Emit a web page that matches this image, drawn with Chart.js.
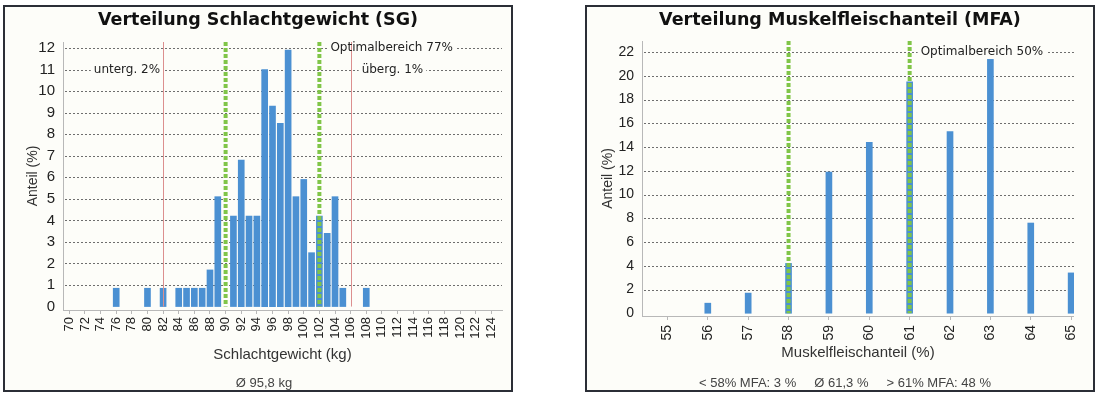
<!DOCTYPE html>
<html>
<head>
<meta charset="utf-8">
<script src="https://cdn.jsdelivr.net/npm/chart.js@4.4.1/dist/chart.umd.min.js"></script>
<style>
  html, body { margin: 0; padding: 0; background: #fff; }
  body { width: 1097px; height: 397px; position: relative; overflow: hidden; }
  .panel { position: absolute; top: 5px; width: 510px; height: 387px; box-sizing: border-box;
           border: 2px solid #2b2e36; background: #fdfdf9; }
  #p1 { left: 3px; }
  #p2 { left: 585px; }
  .panel canvas { position: absolute; left: 0; top: 0; }
  .title { position: absolute; left: 0; right: 0; top: 2px; text-align: center;
           font: bold 17.5px "DejaVu Sans"; line-height: 20px; color: #111; }
  .foot { position: absolute; top: 368px; font: 13px "Liberation Sans"; line-height: 15px;
          color: #444; white-space: pre; transform: translateX(-50%); }
</style>
</head>
<body>
<div class="panel" id="p1">
  <canvas id="sgChart" width="506" height="383"></canvas>
  <div class="title">Verteilung Schlachtgewicht (SG)</div>
  <div class="foot" style="left:259px">Ø 95,8 kg</div>
</div>
<div class="panel" id="p2">
  <canvas id="mfaChart" width="506" height="383"></canvas>
  <div class="title">Verteilung Muskelfleischanteil (MFA)</div>
  <div class="foot" style="left:258px">&lt; 58% MFA: 3 %     Ø 61,3 %     &gt; 61% MFA: 48 %</div>
</div>
<script>
// --- Schlachtgewicht (SG) ---
const sgKg    = [76, 80, 82, 84, 85, 86, 87, 88, 89, 91, 92, 93, 94, 95, 96, 97, 98, 99, 100, 101, 102, 103, 104, 105, 108];
const sgPct   = [0.85, 0.85, 0.85, 0.85, 0.85, 0.85, 0.85, 1.7, 5.1, 4.2, 6.8, 4.2, 4.2, 11.0, 9.3, 8.5, 11.9, 5.1, 5.9, 2.5, 4.2, 3.4, 5.1, 0.85, 0.85];
const sgTicks = [70, 72, 74, 76, 78, 80, 82, 84, 86, 88, 90, 92, 94, 96, 98, 100, 102, 104, 106, 108, 110, 112, 114, 116, 118, 120, 122, 124];
const sgYTicks = [0, 1, 2, 3, 4, 5, 6, 7, 8, 9, 10, 11, 12];
const sgLimits  = [82, 106];   // red lines
const sgOptimal = [90, 102];   // green lines
const sgNotes   = ['unterg. 2%', 'überg. 1%', 'Optimalbereich 77%'];

// --- Muskelfleischanteil (MFA) ---
const mfaVal   = [56, 57, 58, 59, 60, 61, 62, 63, 64, 65];
const mfaPct   = [0.85, 1.7, 4.2, 11.9, 14.4, 19.5, 15.3, 21.6, 7.6, 3.4];
const mfaTicks = [55, 56, 57, 58, 59, 60, 61, 62, 63, 64, 65];
const mfaYTicks = [0, 2, 4, 6, 8, 10, 12, 14, 16, 18, 20, 22];
const mfaOptimal = [58, 61];
const mfaNotes   = ['Optimalbereich 50%'];

const BAR = '#4b90d2';
const PANEL_BG = '#fdfdf9';

// dotted grid, limit lines and the little notes
const marksPlugin = {
  id: 'marks',
  beforeDatasetsDraw(chart) {
    const {ctx, chartArea: a, scales: {y}} = chart;
    ctx.save();
    ctx.strokeStyle = '#6e6e6e';
    ctx.lineWidth = 1;
    ctx.setLineDash([2, 2]);
    y.ticks.forEach(t => {
      if (t.value === 0) return;
      const py = Math.round(y.getPixelForValue(t.value)) + 0.5;
      ctx.beginPath();
      ctx.moveTo(a.left + 2, py);
      ctx.lineTo(a.right, py);
      ctx.stroke();
    });
    ctx.restore();
  },
  afterDatasetsDraw(chart, args, o) {
    const {ctx, chartArea: a, scales: {x, y}} = chart;
    const base = y.getPixelForValue(0);
    ctx.save();
    ctx.font = '12px "DejaVu Sans"';
    ctx.textBaseline = 'middle';
    ctx.textAlign = 'left';
    const placed = (o.notes || []).map(n => {
      const px = x.getPixelForValue(n.at) + n.dx;
      const py = y.getPixelForValue(n.y);
      const w = ctx.measureText(n.text).width;
      const left = n.align === 'right' ? px - w : px;
      ctx.fillStyle = PANEL_BG;
      ctx.fillRect(left - 3, py - 7, w + 6, 14);
      return {text: n.text, left, py};
    });

    ctx.strokeStyle = '#dc8f8f';
    ctx.lineWidth = 1;
    (o.limits || []).forEach(v => {
      const px = Math.round(x.getPixelForValue(v)) + 0.5;
      ctx.beginPath();
      ctx.moveTo(px, a.top);
      ctx.lineTo(px, base);
      ctx.stroke();
    });

    ctx.strokeStyle = '#80c548';
    ctx.lineWidth = 4;
    ctx.setLineDash([4, 2]);
    (o.optimal || []).forEach(v => {
      const px = x.getPixelForValue(v);
      ctx.beginPath();
      ctx.moveTo(px, a.top);
      ctx.lineTo(px, base);
      ctx.stroke();
    });
    ctx.setLineDash([]);

    ctx.fillStyle = '#222';
    placed.forEach(p => ctx.fillText(p.text, p.left, p.py));
    ctx.restore();
  }
};

function makeChart(id, cfg) {
  return new Chart(document.getElementById(id), {
    type: 'bar',
    data: {
      datasets: [{
        data: cfg.xs.map((v, i) => ({x: v, y: cfg.ys[i]})),
        backgroundColor: BAR,
        borderWidth: 0,
        barThickness: 6
      }]
    },
    options: {
      responsive: false,
      animation: false,
      layout: {padding: cfg.padding},
      plugins: {
        legend: {display: false},
        tooltip: {enabled: false},
        marks: {limits: cfg.limits, optimal: cfg.optimal, notes: cfg.notes}
      },
      scales: {
        x: {
          type: 'linear',
          offset: false,
          min: cfg.xMin, max: cfg.xMax,
          afterBuildTicks: s => { s.ticks = cfg.xTicks.map(v => ({value: v})); },
          afterFit: s => { s.height = cfg.xHeight; },
          grid: {drawOnChartArea: false, drawTicks: true, tickLength: 4, color: '#b8b8b8', offset: false},
          border: {color: '#b8b8b8'},
          ticks: {autoSkip: false, minRotation: 90, maxRotation: 90, padding: cfg.xPad,
                  color: '#222', font: {family: 'Liberation Sans', size: cfg.xFont}},
          title: {display: true, text: cfg.xTitle, color: '#333',
                  font: {family: 'Liberation Sans', size: 15}, padding: {top: 0, bottom: cfg.xTitlePad}}
        },
        y: {
          min: cfg.yMin, max: cfg.yMax,
          afterBuildTicks: s => { s.ticks = cfg.yTicks.map(v => ({value: v})); },
          afterFit: s => { s.width = cfg.yWidth; },
          grid: {display: false, drawTicks: false},
          border: {display: true, color: '#b8b8b8'},
          ticks: {padding: 8, color: '#222', font: {family: 'Liberation Sans', size: cfg.yFont}},
          title: {display: true, text: 'Anteil (%)', color: '#333',
                  font: {family: 'Liberation Sans', size: 14}, padding: {top: cfg.yTitlePad, bottom: 0}}
        }
      }
    },
    plugins: [marksPlugin]
  });
}

makeChart('sgChart', {
  xs: sgKg, ys: sgPct,
  xMin: 69.19, xMax: 125.37, xTicks: sgTicks,
  yMin: -0.16, yMax: 12.28, yTicks: sgYTicks,
  padding: {top: 35, left: 0, right: 9, bottom: 0},
  xHeight: 80, yWidth: 58,
  xPad: 3, xFont: 13, yFont: 15,
  xTitle: 'Schlachtgewicht (kg)', xTitlePad: 26, yTitlePad: 20,
  limits: sgLimits, optimal: sgOptimal,
  notes: [
    {text: sgNotes[0], at: sgLimits[0], dx: -3, y: 11, align: 'right'},
    {text: sgNotes[1], at: sgLimits[1], dx: 11, y: 11, align: 'left'},
    {text: sgNotes[2], at: sgOptimal[1], dx: 11, y: 12, align: 'left'}
  ]
});

makeChart('mfaChart', {
  xs: mfaVal, ys: mfaPct,
  xMin: 54.37, xMax: 65.07, xTicks: mfaTicks,
  yMin: -0.23, yMax: 22.93, yTicks: mfaYTicks,
  padding: {top: 34, left: 0, right: 10, bottom: 0},
  xHeight: 74, yWidth: 55,
  xPad: 5, xFont: 14, yFont: 14,
  xTitle: 'Muskelfleischanteil (%)', xTitlePad: 28, yTitlePad: 13,
  limits: [], optimal: mfaOptimal,
  notes: [
    {text: mfaNotes[0], at: mfaOptimal[1], dx: 11, y: 22, align: 'left'}
  ]
});
</script>
</body>
</html>
